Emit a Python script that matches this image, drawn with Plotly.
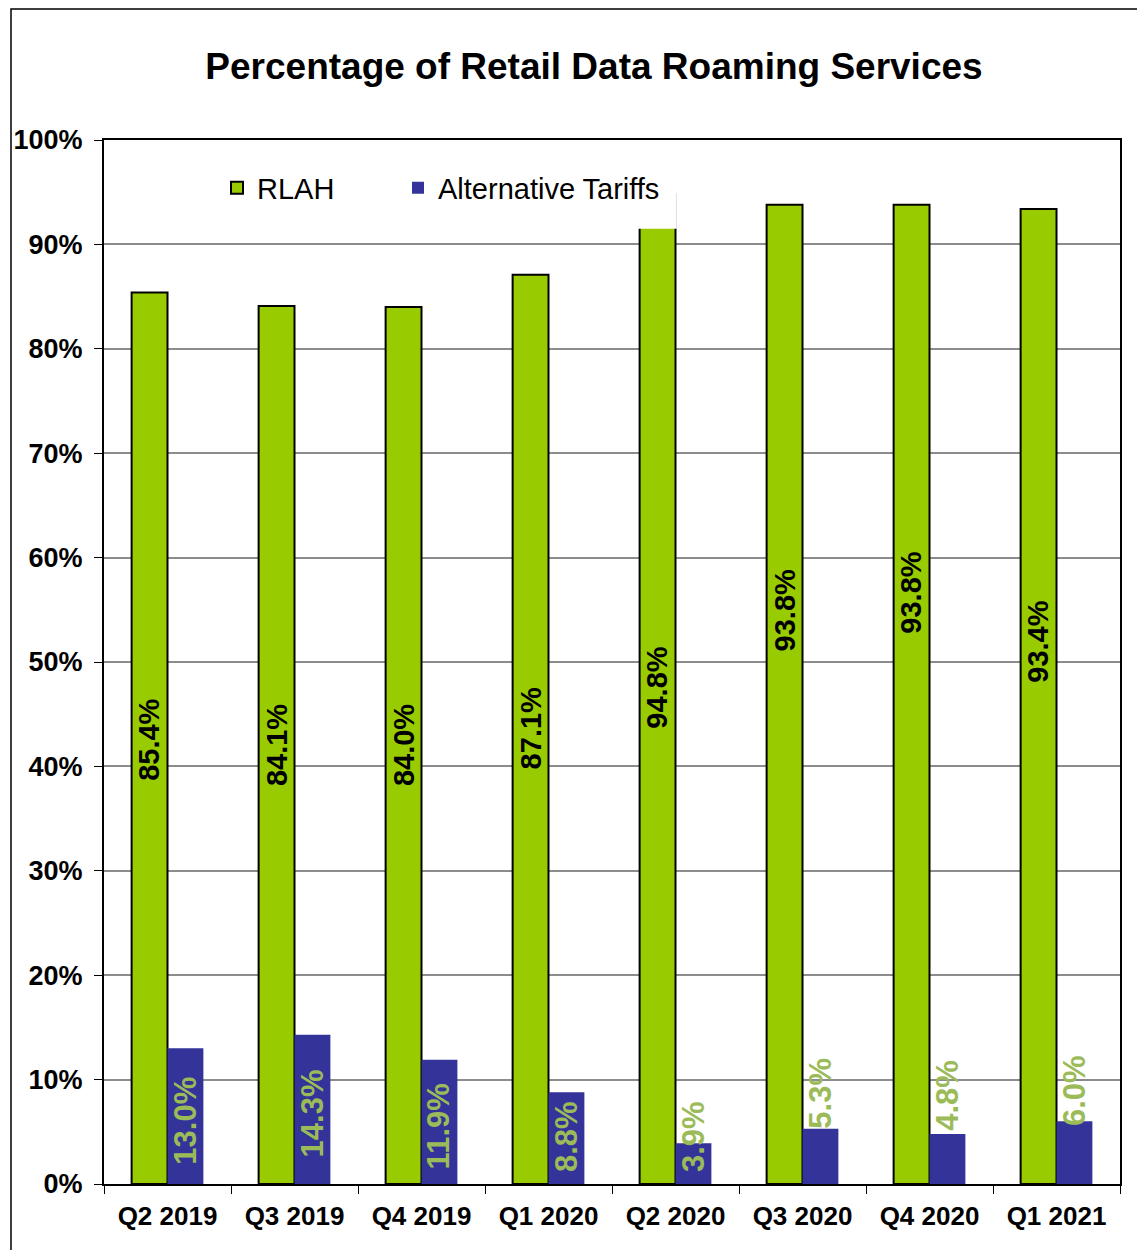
import plotly.graph_objects as go

# ---- data ----
quarters = ["Q2 2019", "Q3 2019", "Q4 2019", "Q1 2020", "Q2 2020", "Q3 2020", "Q4 2020", "Q1 2021"]
rlah = [85.4, 84.1, 84.0, 87.1, 94.8, 93.8, 93.8, 93.4]
alternative = [13.0, 14.3, 11.9, 8.8, 3.9, 5.3, 4.8, 6.0]
y_ticks = [0, 10, 20, 30, 40, 50, 60, 70, 80, 90, 100]

# label placement (layout only)
rlah_label_y = [42.5, 42.0, 42.0, 43.6, 47.5, 54.9, 56.6, 51.9]
alt_label_y = [1.7, 2.4, 1.25, 0.95, 0.95, 5.1, 4.9, 5.35]

FONT = "Liberation Sans, Arial, sans-serif"
GREEN = "#99CC00"
BLUE = "#333399"
LABEL_GREEN = "#9BBB59"

# page body has an 8px margin; figure sized to fit the 1145x1250 window
OFF = 8
W, H = 1145 - OFF, 1250 - OFF
# plot area in screen pixels
PX0, PX1, PY0, PY1 = 104, 1120, 140, 1184
L, T = PX0 - OFF, PY0 - OFF
pw, ph = PX1 - PX0, PY1 - PY0
R, B = W - L - pw, H - T - ph

bargap = 0.435
half_off = (1 - bargap) / 4

fig = go.Figure()
fig.add_trace(go.Bar(
    x=quarters, y=rlah, name="RLAH", legend="legend",
    marker=dict(color=GREEN, line=dict(color="black", width=2)),
))
fig.add_trace(go.Bar(
    x=quarters, y=alternative, name="Alternative Tariffs", legend="legend2",
    marker=dict(color=BLUE, line=dict(width=0)),
))

annotations = []
for i, (v, ly) in enumerate(zip(rlah, rlah_label_y)):
    annotations.append(dict(
        x=i - half_off, y=ly, xref="x", yref="y", text=f"{v:.1f}%",
        showarrow=False, textangle=-90, xanchor="center", yanchor="middle",
        font=dict(family=FONT, size=29, color="black", weight="bold"),
    ))
for i, (v, ly) in enumerate(zip(alternative, alt_label_y)):
    annotations.append(dict(
        x=i + half_off, y=ly, xref="x", yref="y", text=f"{v:.1f}%",
        showarrow=False, textangle=-90, xanchor="center", yanchor="bottom",
        font=dict(family=FONT, size=31, color=LABEL_GREEN, weight="bold"),
    ))

def sx(px):
    return (px - PX0) / pw

def sy(py):
    return (PY1 - py) / ph

shapes = [
    # legend box hides the top of the Q2 2020 RLAH bar
    dict(type="rect", xref="x", yref="y", x0=4 - 2 * half_off - 0.02, x1=4 + 0.01,
         y0=91.5, y1=97, fillcolor="white", line=dict(width=0), layer="above"),
    # outer frame
    dict(type="rect", xref="paper", yref="paper",
         x0=sx(11), x1=sx(1170), y0=sy(1275), y1=sy(9),
         line=dict(color="black", width=1.5), fillcolor="rgba(0,0,0,0)", layer="above"),
]

legend_common = dict(
    orientation="h", yanchor="middle", y=sy(188),
    font=dict(family=FONT, size=29, color="black"),
    bgcolor="rgba(0,0,0,0)", borderwidth=0, xanchor="left",
)

fig.update_layout(
    width=W, height=H,
    margin=dict(l=L, r=R, t=T, b=B, autoexpand=False),
    paper_bgcolor="white", plot_bgcolor="white",
    barmode="group", bargap=bargap, bargroupgap=0,
    font=dict(family=FONT, color="black"),
    showlegend=True,
    title=dict(
        text="Percentage of Retail Data Roaming Services",
        x=sx(594), xref="paper", xanchor="center",
        y=1 - (66 - OFF) / H, yref="container", yanchor="middle",
        font=dict(family=FONT, size=37, color="black", weight="bold"),
    ),
    legend=dict(x=sx(217), visible=True, **legend_common),
    legend2=dict(x=sx(398), visible=True, **legend_common),
    annotations=annotations,
    shapes=shapes,
)

fig.update_yaxes(
    range=[0, 100], tickvals=y_ticks, ticktext=[f"{t}%" for t in y_ticks],
    showgrid=True, gridcolor="#8C8C8C", gridwidth=1.5,
    showline=True, linecolor="black", linewidth=2, mirror=True,
    ticks="outside", ticklen=8, tickcolor="black", tickwidth=1,
    ticklabelstandoff=6, automargin=False,
    tickfont=dict(family=FONT, size=27, color="black", weight="bold"),
    zeroline=False,
)
fig.update_xaxes(
    showline=True, linecolor="black", linewidth=2, mirror=True,
    ticks="outside", ticklen=8, tickcolor="black", tickwidth=1, tickson="boundaries",
    ticklabelstandoff=8, automargin=False,
    tickfont=dict(family=FONT, size=26, color="black", weight="bold"),
    showgrid=False,
)

fig.write_html("out.html")
